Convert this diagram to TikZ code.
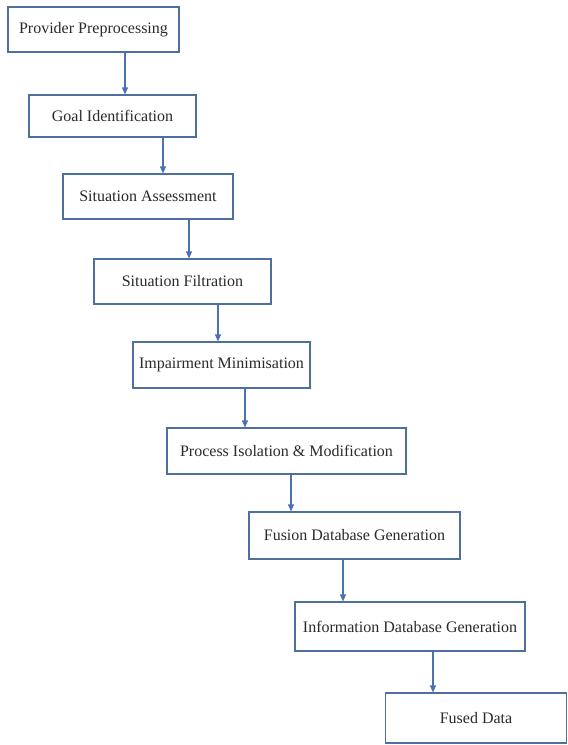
\documentclass[tikz,border=0pt]{standalone}
\usepackage{fontspec}
\setmainfont{Liberation Serif}
\usetikzlibrary{arrows.meta}
\definecolor{boxline}{HTML}{4F6F9F}
\definecolor{arrline}{HTML}{4A72B0}
\definecolor{txt}{HTML}{2A2A2A}
\tikzset{
  stepbox/.style={draw=boxline, line width=1.1pt, fill=white, text=txt,
    font=\fontsize{16}{19}\selectfont, inner sep=0pt, anchor=center},
  arr/.style={draw=arrline, line width=1.1pt, -{Triangle[length=7pt,width=6pt]}}
}
\begin{document}
\begin{tikzpicture}[x=1pt,y=1pt]
\useasboundingbox[fill=white] (0,0) rectangle (568,-745);
\node[stepbox, minimum width=171pt, minimum height=45pt] (b1) at (93.5,-29.5) {Provider Preprocessing};
\node[stepbox, minimum width=167pt, minimum height=42pt] (b2) at (112.5,-116) {Goal Identification};
\node[stepbox, minimum width=170pt, minimum height=45pt] (b3) at (148,-196.5) {Situation Assessment};
\node[stepbox, minimum width=177pt, minimum height=45pt] (b4) at (182.5,-281.5) {Situation Filtration};
\node[stepbox, minimum width=177pt, minimum height=46pt] (b5) at (221.5,-365) {Impairment Minimisation};
\node[stepbox, minimum width=239pt, minimum height=46pt] (b6) at (286.5,-451) {Process Isolation \& Modification};
\node[stepbox, minimum width=211pt, minimum height=47pt] (b7) at (354.5,-535.5) {Fusion Database Generation};
\node[stepbox, minimum width=230pt, minimum height=49pt] (b8) at (410,-626.5) {Information Database Generation};
\node[stepbox, minimum width=181pt, minimum height=50pt] (b9) at (476,-718) {Fused Data};
\draw[arr] ([xshift=31.5pt]b1.south) -- ([xshift=31.5pt]b1.south |- b2.north);
\draw[arr] ([xshift=50.5pt]b2.south) -- ([xshift=50.5pt]b2.south |- b3.north);
\draw[arr] ([xshift=41pt]b3.south) -- ([xshift=41pt]b3.south |- b4.north);
\draw[arr] ([xshift=35.5pt]b4.south) -- ([xshift=35.5pt]b4.south |- b5.north);
\draw[arr] ([xshift=23.5pt]b5.south) -- ([xshift=23.5pt]b5.south |- b6.north);
\draw[arr] ([xshift=4.5pt]b6.south) -- ([xshift=4.5pt]b6.south |- b7.north);
\draw[arr] ([xshift=-11.5pt]b7.south) -- ([xshift=-11.5pt]b7.south |- b8.north);
\draw[arr] ([xshift=23pt]b8.south) -- ([xshift=23pt]b8.south |- b9.north);
\end{tikzpicture}
\end{document}
